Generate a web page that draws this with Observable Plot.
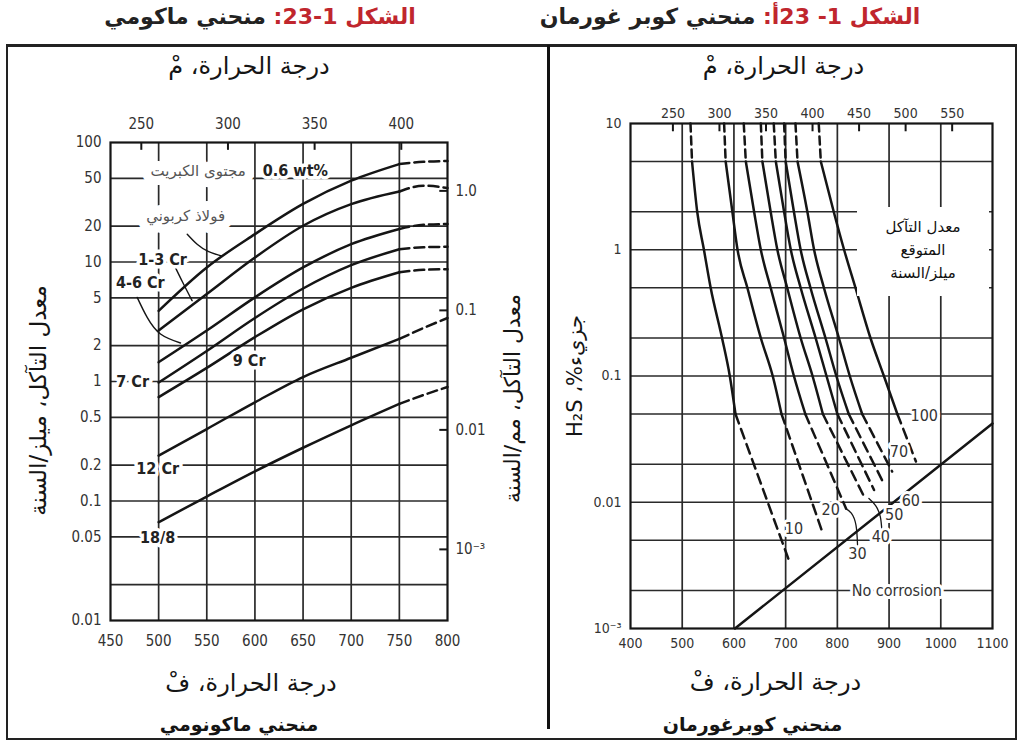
<!DOCTYPE html>
<html lang="ar">
<head>
<meta charset="utf-8">
<script src="https://cdn.jsdelivr.net/npm/d3@7"></script>
<script src="https://cdn.jsdelivr.net/npm/@observablehq/plot@0.6"></script>
<style>
  html, body { margin: 0; padding: 0; background: #fff; }
  #figure { position: relative; width: 1017px; height: 742px; overflow: hidden; background: #fff; font-family: "DejaVu Sans", sans-serif; }
  .fig-title { position: absolute; top: 4px; direction: rtl; text-align: center; font-weight: bold; font-size: 22px; color: #222; white-space: nowrap; }
  .fig-title .num { color: #c0262d; }
  #frame { position: absolute; left: 6px; top: 44px; width: 1007px; height: 691px; border: 2px solid #222; border-top-width: 3px; }
  #divider { position: absolute; left: 547px; top: 45px; width: 3px; height: 684px; background: #111; }
  #leftPanel { position: absolute; left: 8px; top: 46px; }
  #rightPanel { position: absolute; left: 551px; top: 46px; }
  #rateBox { position: absolute; left: 857px; top: 207px; width: 132px; height: 89px; background: #fff; direction: rtl; text-align: center; font: 15px "DejaVu Sans", sans-serif; line-height: 23px; padding-top: 9px; box-sizing: border-box; color: #111; }
</style>
</head>
<body>
<div id="figure">
  <div class="fig-title" style="left:0;width:520px"><span class="num">الشكل 1-23:</span> منحني ماكومي</div>
  <div class="fig-title" style="left:470px;width:520px"><span class="num">الشكل 1- 23أ:</span> منحني كوبر غورمان</div>
  <div id="frame"></div>
  <div id="leftPanel"></div>
  <div id="rightPanel"></div>
  <div id="divider"></div>
  <div id="rateBox">معدل التآكل<br>المتوقع<br>ميلز/السنة</div>
</div>
<script>
// ---------- McConomy curves: temperature (°F) vs corrosion rate (mils per year) ----------
const mcTempF = [500, 550, 600, 650, 700, 750];
const mcTailTempF = [750, 775, 800];
const mcAlloys = ["Carbon steel", "1-3 Cr", "4-6 Cr", "7 Cr", "9 Cr", "12 Cr", "18/8"];
const mcCarbonSteel = [3.9, 9.0, 17.1, 30.6, 47.9, 66];
const mcCr1to3 = [2.67, 5.4, 10.9, 20.1, 30.5, 38.9];
const mcCr4to6 = [1.45, 2.67, 5.06, 9.0, 14.1, 18.9];
const mcCr7 = [0.98, 1.8, 3.4, 6.0, 9.4, 12.8];
const mcCr9 = [0.74, 1.3, 2.35, 4.02, 6.08, 8.2];
const mcCr12 = [0.24, 0.4, 0.67, 1.09, 1.58, 2.27];
const mcSS188 = [0.0665, 0.109, 0.177, 0.279, 0.43, 0.65];
// dashed extrapolation, 750 to 800 °F
const mcCarbonSteelTail = [66, 69, 70];
const mcCr1to3Tail = [38.9, 43.5, 41.6];
const mcCr4to6Tail = [18.9, 20.5, 20.8];
const mcCr7Tail = [12.8, 13.3, 13.4];
const mcCr9Tail = [8.2, 8.6, 8.7];
const mcCr12Tail = [2.27, 2.8, 3.4];
const mcSS188Tail = [0.65, 0.77, 0.9];

// axes of the McConomy chart
const mcTempTicks = [450, 500, 550, 600, 650, 700, 750, 800];
const mcGridTempF = [500, 550, 600, 650, 700, 750];
const mcRateTicks = [100, 50, 20, 10, 5, 2, 1, 0.5, 0.2, 0.1, 0.05, 0.01];
const mcRateTickLabels = ["100", "50", "20", "10", "5", "2", "1", "0.5", "0.2", "0.1", "0.05", "0.01"];
const mcGridRates = [50, 20, 10, 5, 2, 1, 0.5, 0.2, 0.1, 0.05, 0.02];
const mcCelsiusTicks = [250, 300, 350, 400];
const mmTicks = [1, 0.1, 0.01, 0.001];
const mmTickLabels = ["1.0", "0.1", "0.01", "10⁻³"];

// curve labels (°F, mils/yr)
const mcLabelText = ["0.6 wt%", "1-3 Cr", "4-6 Cr", "7 Cr", "9 Cr", "12 Cr", "18/8"];
const mcLabelTempF = [642, 504, 481, 473, 594, 499, 499];
const mcLabelRate = [58, 10.5, 6.75, 1.0, 1.5, 0.185, 0.049];
const mcNoteText = ["مجتوى الكبريت", "فولاذ كربوني"];
const mcNoteTempF = [541, 528];
const mcNoteRate = [58, 24.4];
// leader lines from labels to curves
const mcLeaderCarbonTempF = [529.7, 540, 552, 566];
const mcLeaderCarbonRate = [17.1, 14.1, 12.2, 11.2];
const mcLeaderCr1to3TempF = [515.7, 524.8, 534.8];
const mcLeaderCr1to3Rate = [9.6, 6.8, 4.74];
const mcLeaderCr4to6TempF = [477.7, 488.1, 501.9, 522.7];
const mcLeaderCr4to6Rate = [5.06, 3.44, 2.5, 2.1];

// ---------- Couper-Gorman curves: temperature (°F) vs H2S mole % ----------
const cgRates = ["10", "20", "30", "40", "50", "60", "70", "100"];
const cgSolidH2S = [5, 2, 1, 0.5, 0.2, 0.1, 0.05];
const cgRate10TempF = [519, 529, 542, 555, 577, 592, 603];
const cgRate20TempF = [584, 597, 607, 626, 652, 675, 692];
const cgRate30TempF = [623, 639, 652, 671, 697, 716, 738];
const cgRate40TempF = [655, 671, 684, 703, 729, 752, 772];
const cgRate50TempF = [681, 697, 710, 729, 758, 779, 800];
const cgRate60TempF = [700, 716, 729, 748, 777, 798, 822];
const cgRate70TempF = [723, 742, 755, 774, 803, 824, 848];
const cgRate100TempF = [768, 793, 813, 835, 864, 890, 916];
// dashed start at 10 mol % and dashed end of each curve
const cgTopTempF = [516, 581, 619, 652, 677, 697, 719, 764];
const cgEndTempF = [706, 771, 817, 852, 871, 890, 906, 952];
const cgEndH2S = [0.0035, 0.0058, 0.0089, 0.011, 0.0125, 0.014, 0.0175, 0.021];
// no-corrosion boundary
const noCorrosionTempF = [602, 1100];
const noCorrosionH2S = [0.001, 0.042];

// axes of the Couper-Gorman chart
const cgTempTicks = [400, 500, 600, 700, 800, 900, 1000, 1100];
const cgGridTempF = [500, 600, 700, 800, 900, 1000];
const cgH2STicks = [10, 1, 0.1, 0.01, 0.001];
const cgH2STickLabels = ["10", "1", "0.1", "0.01", "10⁻³"];
const cgGridH2S = [5, 2, 1, 0.5, 0.2, 0.1, 0.05, 0.02, 0.01, 0.005, 0.002];
const cgCelsiusTicks = [250, 300, 350, 400, 450, 500, 550];

// labels (°F, mol %)
const cgLabelText = ["10", "20", "30", "40", "50", "60", "70", "100", "No corrosion"];
const cgLabelTempF = [716, 787, 839, 884, 910, 942, 919, 968, 915];
const cgLabelH2S = [0.0062, 0.0087, 0.0039, 0.0053, 0.0079, 0.0102, 0.025, 0.048, 0.002];
const cgLeader30TempF = [839, 836, 827, 816];
const cgLeader30H2S = [0.0046, 0.0066, 0.0082, 0.0089];
const cgLeader40TempF = [886, 883, 874, 861];
const cgLeader40H2S = [0.006, 0.0077, 0.0094, 0.0107];

// ---------- helpers ----------
const ink = "#151515";
const gridInk = "#2a2a2a";
const numFont = "'Liberation Sans Narrow','DejaVu Sans Condensed','Roboto Condensed','Liberation Sans',sans-serif";
const arFont = "'DejaVu Sans',sans-serif";
const toF = c => c * 9 / 5 + 32;
const toC = f => (f - 32) * 5 / 9;
const MM_PER_MIL = 0.0254;

const rows = (name, xs, ys) => xs.map((x, i) => ({name, x, y: ys[i]}));
function rtlArabic(svg) {
  svg.querySelectorAll("text").forEach(t => {
    if (/[\u0600-\u06FF]/.test(t.textContent)) t.setAttribute("direction", "rtl");
  });
  return svg;
}
// tick labels drawn as text marks so every log tick keeps its label
const yLabels = (values, labels, side, pad) => Plot.text(values, {
  y: d => d, text: (d, i) => labels[i], frameAnchor: side,
  textAnchor: side === "left" ? "end" : "start", dx: side === "left" ? -pad : pad, fill: "#333"
});

// ---------- McConomy chart ----------
const mcSolid = [mcCarbonSteel, mcCr1to3, mcCr4to6, mcCr7, mcCr9, mcCr12, mcSS188];
const mcTail = [mcCarbonSteelTail, mcCr1to3Tail, mcCr4to6Tail, mcCr7Tail, mcCr9Tail, mcCr12Tail, mcSS188Tail];
const mcSolidRows = mcAlloys.flatMap((n, k) => rows(n, mcTempF, mcSolid[k]));
const mcTailRows = mcAlloys.flatMap((n, k) => rows(n, mcTailTempF, mcTail[k]));
const mcLeaderRows = [
  ...rows("carbon", mcLeaderCarbonTempF, mcLeaderCarbonRate),
  ...rows("cr13", mcLeaderCr1to3TempF, mcLeaderCr1to3Rate),
  ...rows("cr46", mcLeaderCr4to6TempF, mcLeaderCr4to6Rate)
];
const mcLabels = mcLabelText.map((text, i) => ({text, x: mcLabelTempF[i], y: mcLabelRate[i]}));
const mcNotes = mcNoteText.map((text, i) => ({text, x: mcNoteTempF[i], y: mcNoteRate[i]}));
const mmAsMils = mmTicks.map(m => m / MM_PER_MIL);

const left = Plot.plot({
  width: 538, height: 688,
  marginLeft: 102, marginRight: 99, marginTop: 96, marginBottom: 114,
  style: {fontFamily: numFont, fontSize: "15px", color: "#333", background: "transparent", overflow: "visible"},
  x: {domain: [450, 800], axis: null},
  y: {type: "log", domain: [0.01, 100], axis: null},
  marks: [
    Plot.gridY(mcGridRates, {stroke: gridInk, strokeOpacity: 1, strokeWidth: 1.7}),
    Plot.gridX(mcGridTempF, {stroke: gridInk, strokeOpacity: 1, strokeWidth: 1.7}),
    Plot.frame({stroke: ink, strokeWidth: 2.2}),
    Plot.ruleX(mcCelsiusTicks.map(toF), {y1: 100, y2: 86, stroke: ink, strokeWidth: 2}),
    Plot.ruleY(mmAsMils, {x1: 792, x2: 800, stroke: ink, strokeWidth: 2}),
    yLabels(mcRateTicks, mcRateTickLabels, "left", 9),
    yLabels(mmAsMils, mmTickLabels, "right", 8),
    Plot.axisX(mcTempTicks, {anchor: "bottom", tickSize: 0, tickPadding: 15, label: null, tickFormat: d => String(d)}),
    Plot.axisX(mcCelsiusTicks.map(toF), {anchor: "top", tickSize: 0, tickPadding: 14, label: null, tickFormat: f => String(Math.round(toC(f)))}),
    Plot.line(mcSolidRows, {x: "x", y: "y", z: "name", curve: "monotone-x", stroke: ink, strokeWidth: 2.5}),
    Plot.line(mcTailRows, {x: "x", y: "y", z: "name", curve: "monotone-x", stroke: ink, strokeWidth: 2.5, strokeDasharray: "10,5"}),
    Plot.line(mcLeaderRows, {x: "x", y: "y", z: "name", curve: "natural", stroke: ink, strokeWidth: 1.4}),
    Plot.text(mcNotes, {x: "x", y: "y", text: "text", fill: "#555", stroke: "white", strokeWidth: 18, paintOrder: "stroke", fontFamily: arFont, fontSize: 15}),
    Plot.text(mcLabels, {x: "x", y: "y", text: "text", fill: "#222", stroke: "white", strokeWidth: 7, paintOrder: "stroke", fontSize: 16, fontWeight: "bold"}),
    Plot.text(["درجة الحرارة، مْ"], {frameAnchor: "top", dx: -30, dy: -86, fontFamily: arFont, fontSize: 24, fill: ink}),
    Plot.text(["درجة الحرارة، فْ"], {frameAnchor: "bottom", dx: -28, dy: 70, fontFamily: arFont, fontSize: 24, fill: ink}),
    Plot.text(["منحني ماكونومي"], {frameAnchor: "bottom", dx: -40, dy: 110, fontFamily: arFont, fontSize: 19, fontWeight: "bold", fill: ink}),
    Plot.text(["معدل التآكل، ميلز/السنة"], {frameAnchor: "left", textAnchor: "middle", dx: -72, dy: 19, rotate: -90, fontFamily: arFont, fontSize: 23, fill: ink}),
    Plot.text(["معدل التآكل، مم/السنة"], {frameAnchor: "right", textAnchor: "middle", dx: 65, dy: 17, rotate: -90, fontFamily: arFont, fontSize: 22, fill: ink})
  ]
});
document.getElementById("leftPanel").appendChild(rtlArabic(left));

// ---------- Couper-Gorman chart ----------
const cgSolid = [cgRate10TempF, cgRate20TempF, cgRate30TempF, cgRate40TempF, cgRate50TempF, cgRate60TempF, cgRate70TempF, cgRate100TempF];
const cgSolidRows = cgRates.flatMap((n, k) => rows(n, cgSolid[k], cgSolidH2S));
const cgTopRows = cgRates.flatMap((n, k) => [{name: n, x: cgTopTempF[k], y: 10}, {name: n, x: cgSolid[k][0], y: cgSolidH2S[0]}]);
const cgTailRows = cgRates.flatMap((n, k) => [{name: n, x: cgSolid[k][cgSolid[k].length - 1], y: cgSolidH2S[cgSolidH2S.length - 1]}, {name: n, x: cgEndTempF[k], y: cgEndH2S[k]}]);
const cgLeaderRows = [...rows("30", cgLeader30TempF, cgLeader30H2S), ...rows("40", cgLeader40TempF, cgLeader40H2S)];
const cgLabels = cgLabelText.map((text, i) => ({text, x: cgLabelTempF[i], y: cgLabelH2S[i]}));

const right = Plot.plot({
  width: 463, height: 688,
  marginLeft: 79, marginRight: 22, marginTop: 77, marginBottom: 106,
  style: {fontFamily: numFont, fontSize: "14px", color: "#333", background: "transparent", overflow: "visible"},
  x: {domain: [400, 1100], axis: null},
  y: {type: "log", domain: [0.001, 10], axis: null},
  marks: [
    Plot.gridY(cgGridH2S, {stroke: gridInk, strokeOpacity: 1, strokeWidth: 1.7}),
    Plot.gridX(cgGridTempF, {stroke: gridInk, strokeOpacity: 1, strokeWidth: 1.7}),
    Plot.frame({stroke: ink, strokeWidth: 2.2}),
    Plot.ruleX(cgCelsiusTicks.map(toF), {y1: 10, y2: 8.6, stroke: ink, strokeWidth: 2}),
    yLabels(cgH2STicks, cgH2STickLabels, "left", 9),
    Plot.axisX(cgTempTicks, {anchor: "bottom", tickSize: 0, tickPadding: 10, label: null, tickFormat: d => String(d)}),
    Plot.axisX(cgCelsiusTicks.map(toF), {anchor: "top", tickSize: 0, tickPadding: 6, label: null, tickFormat: f => String(Math.round(toC(f)))}),
    Plot.line(cgSolidRows, {x: "x", y: "y", z: "name", curve: "monotone-x", stroke: ink, strokeWidth: 2.5}),
    Plot.line(cgTopRows, {x: "x", y: "y", z: "name", stroke: ink, strokeWidth: 2.5, strokeDasharray: "8,5"}),
    Plot.line(cgTailRows, {x: "x", y: "y", z: "name", stroke: ink, strokeWidth: 2.5, strokeDasharray: "10,6"}),
    Plot.line(rows("none", noCorrosionTempF, noCorrosionH2S), {x: "x", y: "y", stroke: ink, strokeWidth: 2.5}),
    Plot.line(cgLeaderRows, {x: "x", y: "y", z: "name", curve: "natural", stroke: ink, strokeWidth: 1.3}),
    Plot.text(cgLabels, {x: "x", y: "y", text: "text", fill: "#333", stroke: "white", strokeWidth: 6, paintOrder: "stroke", fontSize: 16}),
    Plot.text(["درجة الحرارة، مْ"], {frameAnchor: "top", dx: -28, dy: -67, fontFamily: arFont, fontSize: 24, fill: ink}),
    Plot.text(["درجة الحرارة، فْ"], {frameAnchor: "bottom", dx: -36, dy: 61, fontFamily: arFont, fontSize: 24, fill: ink}),
    Plot.text(["منحني كوبرغورمان"], {frameAnchor: "bottom", dx: -59, dy: 102, fontFamily: arFont, fontSize: 19, fontWeight: "bold", fill: ink}),
    Plot.text(["جزيء%، H₂S"], {frameAnchor: "left", textAnchor: "middle", dx: -55, dy: 0, rotate: -90, fontFamily: arFont, fontSize: 21, fill: ink})
  ]
});
document.getElementById("rightPanel").appendChild(rtlArabic(right));
</script>
</body>
</html>
